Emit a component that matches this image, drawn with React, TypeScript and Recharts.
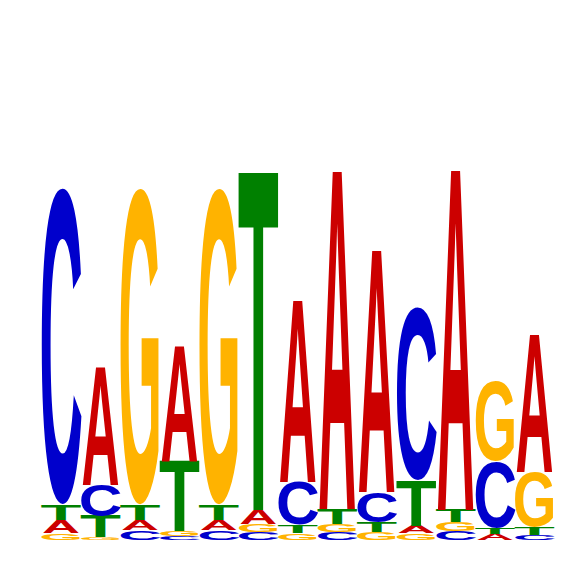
import React from "react";
import { BarChart, Bar, XAxis, YAxis } from "recharts";

// sequence logo, heights in bits per position
const positions = ["1", "2", "3", "4", "5", "6", "7", "8", "9", "10", "11", "12", "13"];
const heightA = [0.054, 0.483, 0.042, 0.475, 0.042, 0.058, 0.748, 1.393, 0.996, 0.03, 1.401, 0.024, 0.566];
const heightC = [1.31, 0.128, 0.04, 0.017, 0.04, 0.032, 0.178, 0.032, 0.124, 0.715, 0.036, 0.273, 0.021];
const heightG = [0.029, 0.012, 1.31, 0.021, 1.31, 0.034, 0.029, 0.034, 0.033, 0.028, 0.038, 0.331, 0.227];
const heightT = [0.062, 0.087, 0.062, 0.289, 0.062, 1.393, 0.033, 0.062, 0.041, 0.186, 0.05, 0.026, 0.033];

const letters = ["A", "C", "G", "T"];
const colors: Record<string, string> = { A: "#CC0000", C: "#0000CC", G: "#FFB300", T: "#008000" };

// glyph metrics for Liberation Sans Bold at font size 100
const glyph: Record<string, { lsb: number; ink: number; top: number; bottom: number }> = {
  A: { lsb: 0, ink: 1, top: 68.8, bottom: 0 },
  C: { lsb: 0.062, ink: 0.868, top: 70, bottom: -1.2 },
  G: { lsb: 0.061, ink: 0.87, top: 70, bottom: -1.2 },
  T: { lsb: 0.036, ink: 0.928, top: 68.8, bottom: 0 },
};

// smallest letter at the bottom
const data = positions.map((pos, i) => {
  const vals = [heightA[i], heightC[i], heightG[i], heightT[i]];
  const order = letters
    .map((l, k) => ({ l, v: vals[k] }))
    .sort((a, b) => a.v - b.v);
  const row: any = { pos };
  order.forEach((o, k) => {
    row["h" + k] = o.v;
    row["l" + k] = o.l;
  });
  return row;
});

const Letter = (props: any) => {
  const { x, y, width, height, payload, slot } = props;
  if (!height || height <= 0) return null;
  const l = payload["l" + slot];
  const g = glyph[l];
  const len = width / g.ink;
  const sy = height / (g.top - g.bottom);
  return (
    <text
      x={0}
      y={0}
      fontFamily="'Liberation Sans', Arial, sans-serif"
      fontWeight="bold"
      fontSize={100}
      fill={colors[l]}
      textLength={len}
      lengthAdjust="spacingAndGlyphs"
      transform={`translate(${x - g.lsb * len},${y + height + g.bottom * sy}) scale(1,${sy})`}
    >
      {l}
    </text>
  );
};

export default function App() {
  return (
    <div style={{ position: "absolute", left: 0, top: 0, background: "#fff" }}>
      <BarChart
        width={566}
        height={566}
        data={data}
        margin={{ top: 56, right: 12, bottom: 26, left: 41 }}
        barSize={38}
      >
        <XAxis dataKey="pos" hide />
        <YAxis domain={[0, 2]} hide />
        {[0, 1, 2, 3].map((k) => (
          <Bar
            key={k}
            dataKey={"h" + k}
            stackId="logo"
            isAnimationActive={false}
            shape={(p: any) => <Letter {...p} slot={k} />}
          />
        ))}
      </BarChart>
    </div>
  );
}
